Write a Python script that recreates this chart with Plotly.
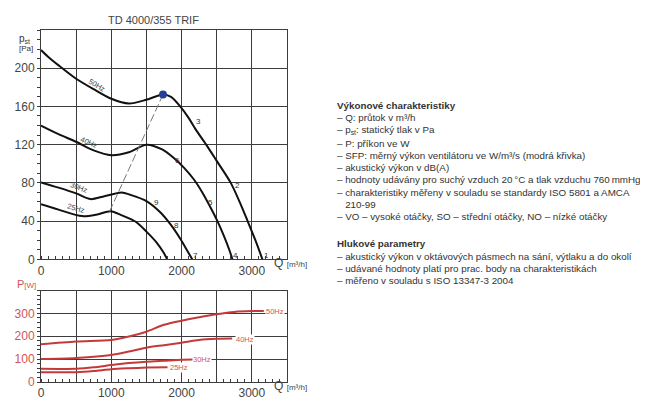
import plotly.graph_objects as go

# ---------------- data ----------------
# Top chart: static pressure vs flow
q50 = [0, 100, 250, 500, 750, 1000, 1250, 1500, 1736, 1850, 1980, 2100, 2200, 2350, 2500, 2700, 2850, 2940, 3050, 3150]
p50 = [219, 212, 203, 189, 178, 168, 163, 167, 172.5, 170, 160, 148, 136, 120, 103, 80, 56, 40, 20, 0]
q40 = [0, 250, 500, 750, 1000, 1250, 1500, 1724, 1890, 2033, 2176, 2295, 2414, 2510, 2605, 2676, 2724]
p40 = [140, 131, 123, 114, 109, 112, 120, 115, 106, 96, 83.5, 70, 54, 40, 24, 10.5, 0]
q30 = [0, 250, 500, 705, 900, 1147, 1271, 1500, 1700, 1843, 1986, 2081, 2152]
p30 = [80.5, 75, 69, 63, 66, 70, 67.5, 61, 49, 36.5, 21, 9, 0]
q25 = [0, 250, 586, 800, 990, 1150, 1348, 1500, 1640, 1748, 1795]
p25 = [57.7, 52, 45.2, 47, 50.4, 46, 39.3, 29, 18, 6.5, 0]

sfp_q = [975, 1736]
sfp_p = [50, 172.5]
dot_q = [1736]
dot_p = [172.5]

num_text = ["1", "2", "3", "4", "5", "6", "7", "8", "9"]
num_q = [3215, 2795, 2241, 2764, 2418, 1949, 2195, 1921, 1640]
num_p = [4.5, 77, 144, 4.5, 59, 103, 4.5, 35, 59.5]

hz_text = ["50Hz", "40Hz", "30Hz", "25Hz"]
hz_q = [800, 680, 540, 505]
hz_p = [182, 122, 75, 53]
hz_angle = [30, 24, 20, 16]

# Bottom chart: power input vs flow
pq50 = [0, 500, 1000, 1250, 1500, 1750, 2000, 2250, 2500, 2750, 3000, 3170]
pp50 = [165, 177, 184, 199, 220, 250, 268, 283, 296, 306, 310, 310]
pq40 = [0, 500, 1000, 1250, 1500, 1750, 2000, 2250, 2500, 2720]
pp40 = [100, 105, 118, 133, 150, 161, 172, 184, 189, 190]
pq30 = [0, 500, 750, 1000, 1250, 1500, 1750, 2000, 2160]
pp30 = [58, 58, 64, 74, 83, 89, 93, 97, 98]
pq25 = [0, 500, 750, 1000, 1250, 1500, 1800]
pp25 = [43, 43, 48, 56, 60, 63, 65]

plab_text = ["50Hz", "40Hz", "30Hz", "25Hz"]
plab_q = [3330, 2905, 2290, 1960]
plab_p = [308, 188, 98, 65]

x_ticks = [0, 500, 1000, 1500, 2000, 2500, 3000, 3500]
x_ticktext = ["0", " ", "1000", " ", "2000", " ", "3000", " "]
y1_ticks = [0, 40, 80, 120, 160, 200, 240]
y1_ticktext = ["0", "40", "80", "120", "160", "200", " "]
y2_ticks = [0, 100, 200, 300, 400]
y2_ticktext = ["0", "100", "200", "300", " "]

title_text = "TD 4000/355 TRIF"
info_lines = [
    ("<b>Výkonové charakteristiky</b>", 105),
    ("– Q: průtok v m³/h", 117),
    ("– p<sub>st</sub>: statický tlak v Pa", 130),
    ("– P: příkon ve W", 143),
    ("– SFP: měrný výkon ventilátoru ve W/m³/s (modrá křivka)", 155),
    ("– akustický výkon v dB(A)", 167),
    ("– hodnoty udávány pro suchý vzduch 20\u2009°C a tlak vzduchu 760\u2009mmHg", 179),
    ("– charakteristiky měřeny v souladu se standardy ISO 5801 a AMCA", 192),
    ("   210-99", 204),
    ("– VO – vysoké otáčky, SO – střední otáčky, NO – nízké otáčky", 216),
    ("<b>Hlukové parametry</b>", 243),
    ("– akustický výkon v oktávových pásmech na sání, výtlaku a do okolí", 256),
    ("– udávané hodnoty platí pro prac. body na charakteristikách", 268),
    ("– měřeno v souladu s ISO 13347-3 2004", 280),
]

# ---------------- layout geometry ----------------
# the page body has an 8px margin, so the figure is drawn 8px in from the window corner
OFF = 8
W, H = 648 - OFF, 414 - OFF
ML, MT = 41 - OFF, 30 - OFF
PW, PH = 246, 352
MR, MB = W - ML - PW, H - MT - PH


def px2x(px):
    return (px - OFF - ML) / PW


def py2y(py):
    return 1 - (py - OFF - MT) / PH


FONT = "Liberation Sans, Arial, sans-serif"
RED = "#c43a3a"
RED_T = "#cf5656"
GRID = "#3c3c3c"

fig = go.Figure()

for q, p in [(q50, p50), (q40, p40), (q30, p30), (q25, p25)]:
    fig.add_trace(go.Scatter(x=q, y=p, mode="lines", line=dict(color="#111", width=2, shape="spline", smoothing=0.8),
                             xaxis="x", yaxis="y", hoverinfo="skip", showlegend=False))

fig.add_trace(go.Scatter(x=sfp_q, y=sfp_p, mode="lines", line=dict(color="#777", width=1, dash="8px,3px"),
                         xaxis="x", yaxis="y", showlegend=False))
fig.add_trace(go.Scatter(x=dot_q, y=dot_p, mode="markers", marker=dict(color="#233f9a", size=8),
                         xaxis="x", yaxis="y", showlegend=False))

for q, p in [(pq50, pp50), (pq40, pp40), (pq30, pp30), (pq25, pp25)]:
    fig.add_trace(go.Scatter(x=q, y=p, mode="lines", line=dict(color=RED, width=2, shape="spline", smoothing=0.8),
                             xaxis="x2", yaxis="y2", hoverinfo="skip", showlegend=False))

annotations = []
for t, q, p in zip(num_text, num_q, num_p):
    annotations.append(dict(x=q, y=p, xref="x", yref="y", text=t, showarrow=False,
                            font=dict(family=FONT, size=8, color="#333")))
for t, q, p, a in zip(hz_text, hz_q, hz_p, hz_angle):
    annotations.append(dict(x=q, y=p, xref="x", yref="y", text=t, showarrow=False, textangle=a,
                            font=dict(family=FONT, size=7.5, color="#444")))
for t, q, p in zip(plab_text, plab_q, plab_p):
    annotations.append(dict(x=q, y=p, xref="x2", yref="y2", text=t, showarrow=False, bgcolor="white",
                            borderpad=0, font=dict(family=FONT, size=7.5, color=RED_T)))

# title
annotations.append(dict(x=px2x(153), y=py2y(12), xref="paper", yref="paper", text=title_text, showarrow=False,
                        font=dict(family=FONT, size=11, color="#444")))
# axis labels
annotations.append(dict(x=px2x(17), y=py2y(31), xref="paper", yref="paper", xanchor="left",
                        text="p<sub>st</sub>", showarrow=False, font=dict(family=FONT, size=10, color="#333")))
annotations.append(dict(x=px2x(17), y=py2y(42), xref="paper", yref="paper", xanchor="left",
                        text="[Pa]", showarrow=False, font=dict(family=FONT, size=8, color="#333")))
annotations.append(dict(x=px2x(15), y=py2y(292), xref="paper", yref="paper", xanchor="left",
                        text="P<span style='font-size:8px'>[W]</span>", showarrow=False,
                        font=dict(family=FONT, size=11, color=RED_T)))
for yy in (272, 395):
    annotations.append(dict(x=px2x(272), y=py2y(yy), xref="paper", yref="paper", xanchor="left",
                            text="Q <span style='font-size:8px'>[m³/h]</span>", showarrow=False,
                            font=dict(family=FONT, size=12, color="#444")))

for txt, yy in info_lines:
    annotations.append(dict(x=px2x(335), y=py2y(yy), xref="paper", yref="paper", xanchor="left", yanchor="middle",
                            text=txt, showarrow=False, font=dict(family=FONT, size=9.8, color="#333")))

xcommon = dict(range=[0, 3500], tickvals=x_ticks, ticktext=x_ticktext, showgrid=True, gridcolor=GRID, gridwidth=1,
               showline=True, linecolor=GRID, linewidth=1, mirror=True, ticks="", zeroline=False, automargin=False,
               tickfont=dict(family=FONT, size=12, color="#444"),
               minor=dict(dtick=100, ticks="inside", ticklen=3, tickcolor=GRID, showgrid=False))

fig.update_layout(
    width=W, height=H, margin=dict(l=ML, r=MR, t=MT, b=MB, autoexpand=False),
    paper_bgcolor="white", plot_bgcolor="white", showlegend=False,
    xaxis=dict(anchor="y", domain=[0, 1], **xcommon),
    xaxis2=dict(anchor="y2", domain=[0, 1], **xcommon),
    yaxis=dict(anchor="x", domain=[py2y(259.3), 1], range=[0, 240], tickvals=y1_ticks, ticktext=y1_ticktext,
               showgrid=True, gridcolor=GRID, gridwidth=1, showline=True, linecolor=GRID, mirror=True,
               zeroline=False, ticks="outside", ticklen=3, tickcolor=GRID, automargin=False,
               tickfont=dict(family=FONT, size=12, color="#444"),
               minor=dict(dtick=10, ticks="outside", ticklen=3, tickcolor=GRID, showgrid=False)),
    yaxis2=dict(anchor="x2", domain=[0, py2y(290.5)], range=[0, 400], tickvals=y2_ticks, ticktext=y2_ticktext,
                showgrid=True, gridcolor=GRID, gridwidth=1, showline=True, linecolor=GRID, mirror=True,
                zeroline=False, ticks="outside", ticklen=3, tickcolor=GRID, automargin=False,
                tickfont=dict(family=FONT, size=12, color=RED_T),
                minor=dict(dtick=20, ticks="outside", ticklen=3, tickcolor=GRID, showgrid=False)),
    annotations=annotations,
)

fig.write_html("out.html")
